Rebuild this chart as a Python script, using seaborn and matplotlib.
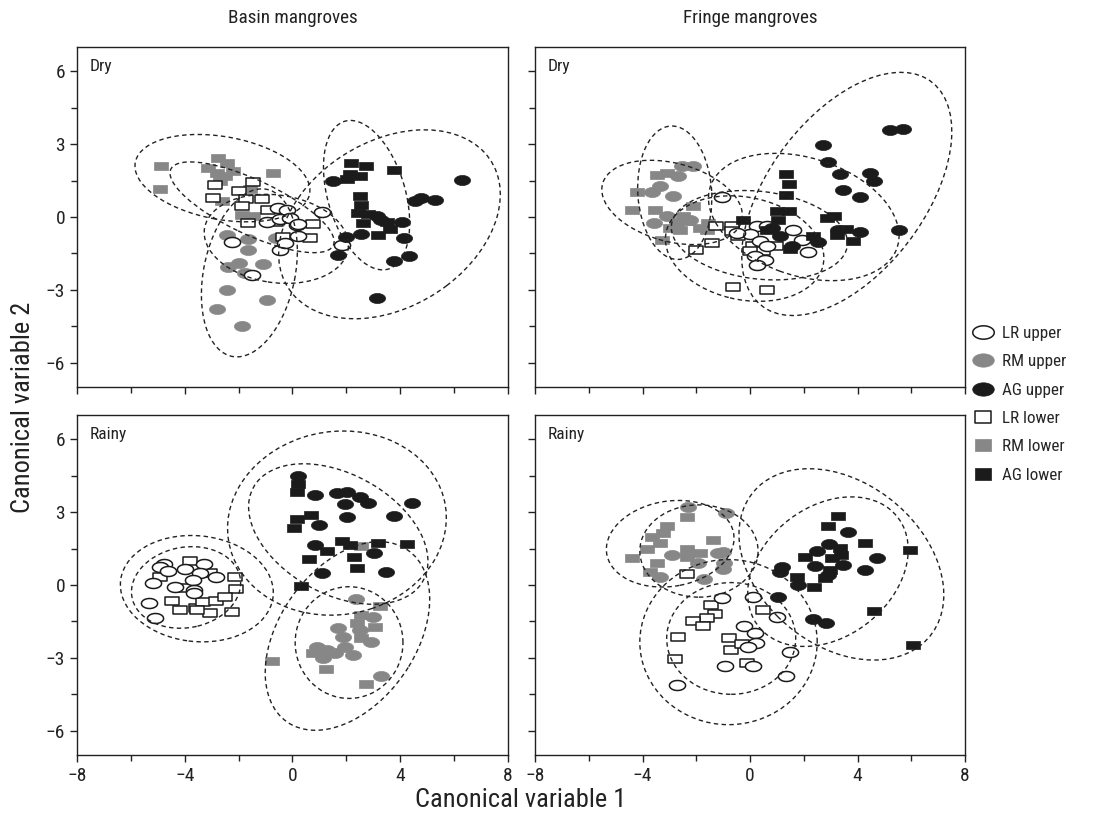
import numpy as np
import pandas as pd
import matplotlib
matplotlib.use("Agg")
import matplotlib.pyplot as plt
import seaborn as sns
from matplotlib.path import Path
from matplotlib.markers import MarkerStyle
from matplotlib.patches import Ellipse
from matplotlib.lines import Line2D
from matplotlib import font_manager

# ---------------- data (canonical scores) ----------------
PANELS = ["Basin dry", "Fringe dry", "Basin rainy", "Fringe rainy"]
GROUPS = ["LR upper", "RM upper", "AG upper", "LR lower", "RM lower", "AG lower"]

# Basin mangroves, Dry
BD_LR_UP = [(-2.25, -1.04), (-1.51, -2.4), (-0.53, 0.37), (-0.21, 0.30), (-0.96, -0.22), (-0.46, -0.08),
            (-0.09, -0.04), (-0.46, -1.35), (-0.28, -1.07), (0.15, -0.32), (0.21, -0.77), (0.21, -0.28),
            (1.08, 0.19), (1.82, -1.14)]
BD_RM_UP = [(-2.44, -0.73), (-1.64, -0.91), (-1.64, -1.37), (-0.61, -0.87), (-1.97, -1.89), (-2.38, -2.06),
            (-1.08, -1.93), (-1.76, -2.3), (-2.44, -2.99), (-0.96, -3.43), (-2.81, -3.79), (-1.88, -4.5)]
BD_AG_UP = [(1.49, 1.47), (6.3, 1.51), (4.54, 0.64), (4.78, 0.78), (5.28, 0.68), (3.12, 0.03), (3.3, -0.11),
            (4.08, -0.19), (1.98, -0.82), (2.54, -0.69), (4.13, -0.87), (1.7, -1.55), (3.76, -1.80),
            (4.33, -1.62), (3.12, -3.33)]
BD_LR_LO = [(-2.87, 1.30), (-1.45, 1.44), (-2.96, 0.78), (-1.97, 1.08), (-1.72, 0.74), (-1.14, 0.74),
            (-1.88, 0.44), (-0.92, 0.30), (-1.64, -0.25), (-0.61, -0.22), (-0.34, -0.82), (0.77, -0.29),
            (0.65, -0.87)]
BD_RM_LO = [(-4.88, 2.11), (-4.91, 1.15), (-2.75, 2.45), (-3.12, 2.02), (-2.44, 2.22), (-2.19, 1.88),
            (-2.81, 1.81), (-2.69, 1.47), (-2.5, 1.67), (-0.71, 1.81), (-1.57, 1.15), (-2.62, 0.64),
            (-1.88, 0.09), (-1.45, 0.03)]
BD_AG_LO = [(2.19, 2.22), (2.72, 2.11), (3.76, 1.95), (2.15, 1.78), (2.5, 1.67), (2.01, 1.56), (2.5, 0.85),
            (2.56, 0.51), (2.44, 0.16), (2.81, 0.12), (2.6, -0.25), (3.49, -0.22), (3.61, -0.49), (3.18, -0.73)]

# Fringe mangroves, Dry
FD_LR_UP = [(-1.05, 0.81), (0.25, -0.36), (0.0, -0.69), (0.37, -1.0), (0.19, -1.62), (0.56, -1.76),
            (0.25, -1.96), (-0.49, -0.66), (0.62, -1.21), (0.62, -0.39), (1.61, -0.52), (1.92, -0.93),
            (2.17, -1.46)]
FD_RM_UP = [(-2.54, 2.08), (-2.11, 2.08), (-2.67, 1.67), (-3.35, 1.26), (-3.65, 1.05), (-2.85, 0.88),
            (-3.1, 0.03), (-3.59, -0.25), (-2.23, -0.11), (-2.72, -0.25)]
FD_AG_UP = [(5.2, 3.59), (5.7, 3.62), (2.7, 2.95), (2.89, 2.26), (3.35, 1.78), (4.46, 1.81), (4.62, 1.47),
            (3.45, 1.12), (4.09, 0.81), (5.55, -0.52), (4.09, -0.62), (3.28, -0.52), (2.54, -1.04),
            (1.12, -0.8), (1.55, -1.21), (0.8, -0.45)]
FD_LR_LO = [(-1.26, -0.39), (-0.68, -0.39), (-0.68, -0.59), (-0.43, -0.77), (-1.42, -1.07), (-2.0, -1.35),
            (0.12, -1.18), (0.49, -1.41), (0.0, -1.41), (-0.62, -2.9), (0.62, -3.0), (0.97, -1.21)]
FD_RM_LO = [(-3.47, 1.74), (-3.1, 1.81), (-4.21, 1.05), (-4.4, 0.3), (-3.53, 0.3), (-2.97, -0.45),
            (-3.28, -0.93), (-2.11, 0.44), (-2.48, 0.03), (-2.29, -0.18), (-1.86, -0.45), (-1.55, -0.25),
            (-1.61, -0.52), (-2.6, -0.52)]
FD_AG_LO = [(1.34, 1.78), (1.46, 1.37), (1.34, 0.92), (0.99, 0.23), (1.46, 0.23), (1.05, -0.11),
            (2.85, -0.04), (3.12, 0.03), (3.57, -0.48), (3.25, -0.76), (2.35, -0.8), (3.82, -1.0),
            (-0.25, -0.14), (0.62, -0.52), (1.49, -1.3)]

# Basin mangroves, Rainy
BR_LR_UP = [(-4.78, 0.86), (-4.91, 0.73), (-4.62, 0.59), (-5.16, 0.09), (-3.98, 0.66), (-3.27, 0.86),
            (-3.43, 0.48), (-2.83, 0.32), (-3.7, 0.21), (-4.35, -0.07), (-3.67, -0.21), (-3.67, -0.34),
            (-5.31, -0.73), (-5.12, -1.37)]
BR_RM_UP = [(2.35, -0.59), (2.99, -1.3), (1.7, -1.78), (1.88, -2.13), (2.5, -1.86), (2.93, -2.33),
            (0.9, -2.54), (1.27, -2.67), (1.57, -2.8), (1.14, -3.0), (2.25, -2.87), (1.94, -2.54), (3.3, -3.74)]
BR_AG_UP = [(0.21, 4.49), (0.83, 3.70), (1.66, 3.77), (2.01, 3.84), (1.94, 3.32), (2.5, 3.63), (2.81, 3.39),
            (4.44, 3.39), (2.04, 2.81), (3.76, 2.84), (0.99, 2.47), (0.83, 1.65), (3.03, 1.3), (1.08, 0.48),
            (3.46, 0.55)]
BR_LR_LO = [(-3.8, 0.99), (-4.93, 0.34), (-3.08, 0.48), (-2.13, 0.34), (-4.01, -0.11), (-2.09, -0.16),
            (-4.47, -0.66), (-4.17, -1.03), (-3.57, -0.96), (-3.33, -0.7), (-2.83, -0.66), (-2.5, -0.51),
            (-3.06, -1.14), (-2.25, -1.12), (-3.53, -1.03)]
BR_RM_LO = [(-0.77, -3.11), (3.24, -0.86), (2.54, 1.6), (2.56, -1.23), (3.06, -1.74), (2.56, -2.19),
            (0.77, -2.8), (1.24, -3.46), (2.72, -4.07), (2.38, -1.58)]
BR_AG_LO = [(0.2, 4.15), (0.15, 3.85), (0.15, 2.72), (0.05, 2.33), (0.67, 2.88), (1.82, 1.82), (2.13, 1.65),
            (1.27, 1.4), (0.62, 1.06), (2.28, 1.17), (2.4, 0.69), (3.18, 1.74), (4.25, 1.69), (0.3, -0.04)]

# Fringe mangroves, Rainy
FR_LR_UP = [(-1.03, -0.55), (0.12, -0.51), (-0.22, -1.69), (0.19, -1.99), (0.22, -2.37), (-0.06, -2.56),
            (-0.93, -3.35), (0.12, -3.35), (-2.73, -4.12), (0.99, -1.3), (1.49, -2.74), (1.34, -3.73)]
FR_RM_UP = [(-2.29, 3.2), (-0.89, 2.98), (-2.91, 1.23), (-1.92, 0.89), (-1.18, 1.3), (-0.99, 1.37),
            (-0.97, 0.89), (-0.99, 0.65), (-3.35, 0.34), (-1.7, 0.23)]
FR_AG_UP = [(3.63, 2.19), (2.94, 1.69), (2.48, 1.41), (4.73, 1.13), (2.42, 0.78), (3.45, 0.82), (1.18, 0.76),
            (1.12, 0.55), (4.28, 0.62), (2.91, 0.41), (1.8, 0.0), (1.05, -0.51), (2.33, -1.41), (2.83, -1.58)]
FR_LR_LO = [(-2.35, 0.44), (-1.46, -0.82), (-1.32, -1.2), (-1.59, -1.37), (-2.14, -1.48), (-1.74, -1.69),
            (-2.67, -2.13), (-2.79, -3.05), (-0.77, -2.19), (-0.71, -2.67), (-0.31, -2.43), (-0.12, -3.22),
            (0.47, -1.03)]
FR_RM_LO = [(-2.35, 2.81), (-3.1, 2.43), (-3.22, 2.13), (-3.65, 1.99), (-3.35, 1.72), (-3.84, 1.47),
            (-4.4, 1.12), (-3.47, 0.92), (-3.72, 0.55), (-1.39, 1.85), (-2.35, 1.47), (-1.86, 1.3), (-2.35, 1.17)]
FR_AG_LO = [(3.28, 2.85), (2.89, 2.43), (4.28, 1.72), (5.97, 1.44), (3.35, 1.51), (2.04, 1.17), (3.38, 1.23),
            (3.04, 1.1), (2.97, 0.62), (1.76, 0.34), (2.79, 0.28), (2.38, -0.07), (4.61, -1.06), (6.07, -2.47)]

# Confidence ellipses: (centre x, centre y, width, height, angle), order as GROUPS
BD_ELLIPSES = [(-0.6, -0.9, 5.4, 3.6, -10), (-1.6, -2.3, 7.0, 3.4, 80), (3.6, -0.3, 9.2, 6.6, 40),
               (-1.5, 0.4, 6.8, 2.2, -28), (-2.6, 1.6, 6.6, 3.4, -12), (2.75, 0.9, 6.3, 2.9, 104)]
FD_ELLIPSES = [(0.35, -0.75, 6.6, 3.6, -8), (-2.8, 1.0, 5.5, 2.75, 93), (3.6, 0.95, 11.2, 6.0, 58),
               (-0.2, -1.3, 6.0, 4.2, -15), (-2.9, 0.6, 5.4, 3.2, -18), (2.0, 0.0, 7.4, 4.8, -22)]
BR_ELLIPSES = [(-3.95, -0.1, 4.1, 3.3, 15), (2.1, -2.37, 4.6, 4.0, 90), (1.65, 2.55, 8.2, 7.5, 20),
               (-3.55, -0.15, 5.7, 4.35, -8), (2.04, -2.1, 8.4, 5.2, 61), (1.7, 2.1, 7.4, 4.8, -35)]
FR_ELLIPSES = [(-0.7, -2.2, 4.8, 4.6, 0), (-1.9, 1.4, 4.4, 3.8, 0), (3.4, 0.85, 8.9, 6.4, -48),
               (-0.8, -2.35, 6.8, 6.6, 90), (-2.97, 1.7, 4.8, 3.5, 12), (2.9, 0.55, 6.9, 5.1, 48)]

PANEL_DATA = {
    "Basin dry": [BD_LR_UP, BD_RM_UP, BD_AG_UP, BD_LR_LO, BD_RM_LO, BD_AG_LO],
    "Fringe dry": [FD_LR_UP, FD_RM_UP, FD_AG_UP, FD_LR_LO, FD_RM_LO, FD_AG_LO],
    "Basin rainy": [BR_LR_UP, BR_RM_UP, BR_AG_UP, BR_LR_LO, BR_RM_LO, BR_AG_LO],
    "Fringe rainy": [FR_LR_UP, FR_RM_UP, FR_AG_UP, FR_LR_LO, FR_RM_LO, FR_AG_LO],
}
PANEL_ELLIPSES = {"Basin dry": BD_ELLIPSES, "Fringe dry": FD_ELLIPSES,
                  "Basin rainy": BR_ELLIPSES, "Fringe rainy": FR_ELLIPSES}
SEASON_LABEL = {"Basin dry": "Dry", "Fringe dry": "Dry", "Basin rainy": "Rainy", "Fringe rainy": "Rainy"}

rows = []
for p in PANELS:
    for g, pts in zip(GROUPS, PANEL_DATA[p]):
        for x, y in pts:
            rows.append((p, g, x, y))
df = pd.DataFrame(rows, columns=["panel", "group", "x", "y"])

# ---------------- style ----------------
sns.set_style("ticks")
entries = font_manager.fontManager.ttflist
names = {f.name for f in entries}
main_font, k = "Liberation Sans", 0.85
for cand in ["Roboto Condensed", "Liberation Sans Narrow", "Open Sans Condensed", "Noto Sans Condensed",
             "Arial Narrow"]:
    if cand in names:
        main_font, k = cand, 1.0
        break
plt.rcParams["font.family"] = [main_font, "DejaVu Sans"]
plt.rcParams["axes.edgecolor"] = "#222222"
plt.rcParams["axes.linewidth"] = 1.0

t = np.linspace(0, 2 * np.pi, 65)
ELL = MarkerStyle(Path(np.column_stack([np.cos(t), 0.62 * np.sin(t)]), closed=True))
RECT = MarkerStyle(Path([[-1, -0.68], [1, -0.68], [1, 0.68], [-1, 0.68], [-1, -0.68]], closed=True))

GRAY = "#878787"
BLACK = "#1b1b1b"
STYLE = {
    "LR upper": dict(marker=ELL, s=135, facecolor="white", edgecolor=BLACK, linewidth=1.1),
    "RM upper": dict(marker=ELL, s=135, facecolor=GRAY, edgecolor=GRAY, linewidth=0.5),
    "AG upper": dict(marker=ELL, s=135, facecolor=BLACK, edgecolor=BLACK, linewidth=0.5),
    "LR lower": dict(marker=RECT, s=90, facecolor="white", edgecolor=BLACK, linewidth=1.1),
    "RM lower": dict(marker=RECT, s=90, facecolor=GRAY, edgecolor=GRAY, linewidth=0.5),
    "AG lower": dict(marker=RECT, s=90, facecolor=BLACK, edgecolor=BLACK, linewidth=0.5),
}
DRAW_ORDER = ["RM lower", "RM upper", "LR lower", "LR upper", "AG lower", "AG upper"]

fig = plt.figure(figsize=(10.93, 8.22), dpi=100)
positions = {
    "Basin dry": [0.0704, 0.5292, 0.3944, 0.4136],
    "Fringe dry": [0.4895, 0.5292, 0.3934, 0.4136],
    "Basin rainy": [0.0704, 0.0815, 0.3944, 0.4136],
    "Fringe rainy": [0.4895, 0.0815, 0.3934, 0.4136],
}

for p in PANELS:
    ax = fig.add_axes(positions[p])
    sub = df[df.panel == p]
    for g in DRAW_ORDER:
        gd = sub[sub.group == g]
        sns.scatterplot(data=gd, x="x", y="y", ax=ax, legend=False, zorder=2, **STYLE[g])
    for (cx, cy, w, h, ang) in PANEL_ELLIPSES[p]:
        ax.add_patch(Ellipse((cx, cy), w, h, angle=ang, fill=False, edgecolor="#222222",
                             linewidth=1.0, linestyle=(0, (3.2, 2.4)), zorder=3))
    ax.set_xlim(-8, 8)
    ax.set_ylim(-7, 7)
    ax.set_xticks([-8, -4, 0, 4, 8])
    ax.set_xticks([-6, -2, 2, 6], minor=True)
    ax.set_yticks([-6, -3, 0, 3, 6])
    ax.set_yticks([-4.5, -1.5, 1.5, 4.5], minor=True)
    ax.set_xticklabels(["\u22128", "\u22124", "0", "4", "8"])
    ax.set_yticklabels(["\u22126", "\u22123", "0", "3", "6"])
    ax.tick_params(axis="both", which="major", direction="out", length=5, width=1.0,
                   labelsize=14 * k, color="#222222", labelcolor="#222222")
    ax.tick_params(axis="both", which="minor", direction="out", length=4, width=1.0, color="#222222")
    ax.set_xlabel("")
    ax.set_ylabel("")
    if p in ("Basin dry", "Fringe dry"):
        ax.tick_params(axis="x", labelbottom=False)
    if p in ("Fringe dry", "Fringe rainy"):
        ax.tick_params(axis="y", labelleft=False)
    for sp in ax.spines.values():
        sp.set_visible(True)
    ax.text(0.03, 0.965, SEASON_LABEL[p], transform=ax.transAxes, ha="left", va="top",
            fontsize=12.5 * k, color="#222222")

fig.text(0.2676, 0.978, "Basin mangroves", ha="center", va="center", fontsize=13.8 * k, color="#222222")
fig.text(0.6862, 0.978, "Fringe mangroves", ha="center", va="center", fontsize=13.8 * k, color="#222222")
fig.text(0.476, 0.027, "Canonical variable 1", ha="center", va="center", fontsize=19 * k, color="#222222")
fig.text(0.021, 0.505, "Canonical variable 2", ha="center", va="center", rotation=90,
         fontsize=19 * k, color="#222222")

handles = []
for g in GROUPS:
    st = STYLE[g]
    handles.append(Line2D([], [], linestyle="none", marker=st["marker"],
                          markersize=15.5 if st["marker"] is ELL else 12,
                          markerfacecolor=st["facecolor"], markeredgecolor=st["edgecolor"],
                          markeredgewidth=st["linewidth"], label=g))
fig.legend(handles=handles, loc="center left", bbox_to_anchor=(0.884, 0.508), frameon=False,
           fontsize=12.3 * k, handlelength=1.2, handletextpad=0.5, labelspacing=0.78, borderaxespad=0)

fig.savefig("out.png", dpi=100)
